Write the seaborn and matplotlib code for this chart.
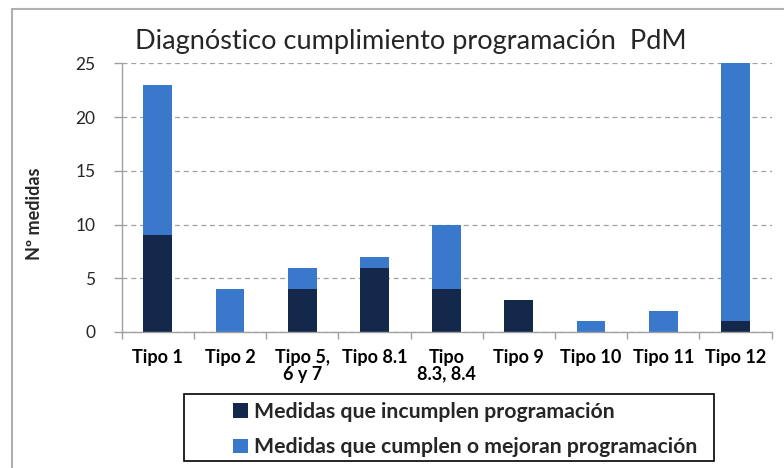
import matplotlib

matplotlib.use("Agg")
import matplotlib.pyplot as plt  # noqa: E402
import numpy as np  # noqa: E402
import pandas as pd  # noqa: E402
import seaborn as sns  # noqa: E402
from matplotlib.lines import Line2D  # noqa: E402
from matplotlib.patches import Patch, Rectangle  # noqa: E402

# data
categories = [
    "Tipo 1", "Tipo 2", "Tipo 5,\n6 y 7", "Tipo 8.1", "Tipo\n8.3, 8.4",
    "Tipo 9", "Tipo 10", "Tipo 11", "Tipo 12",
]
incumplen = [9, 0, 4, 6, 4, 3, 0, 0, 1]
cumplen = [14, 4, 2, 1, 6, 0, 1, 2, 24]
yticks = [0, 5, 10, 15, 20, 25]
series_labels = [
    "Medidas que incumplen programación",
    "Medidas que cumplen o mejoran programación",
]
title = "Diagnóstico cumplimiento programación  PdM"
ylabel = "Nº medidas"

DARK = "#13284a"
BLUE = "#3a78cb"
GRID = "#a0a0a0"

sns.set_theme(style="white")
plt.rcParams["font.family"] = ["Lato", "DejaVu Sans"]

df = pd.DataFrame({"tipo": categories, "incumplen": incumplen, "cumplen": cumplen})
df["total"] = df["incumplen"] + df["cumplen"]

W, H = 784, 468
fig = plt.figure(figsize=(W / 100, H / 100), dpi=100)
ax = fig.add_axes([121.7 / W, 1 - 332 / H, (771.5 - 121.7) / W, (332 - 63.3) / H])

# stacked: full height in blue, dark part drawn over the bottom
sns.barplot(data=df, x="tipo", y="total", color=BLUE, width=0.4,
            saturation=1, errorbar=None, linewidth=0, ax=ax)
sns.barplot(data=df, x="tipo", y="incumplen", color=DARK, width=0.4,
            saturation=1, errorbar=None, linewidth=0, ax=ax)

ax.set_xlim(-0.5, len(categories) - 0.5)
ax.set_ylim(0, max(yticks))
ax.set_yticks(yticks)
ax.set_xlabel("")
ax.set_ylabel("")
ax.set_axisbelow(True)
ax.yaxis.grid(True, linestyle=(0, (4, 3)), color=GRID, linewidth=0.9)

for side in ["top", "right"]:
    ax.spines[side].set_visible(False)
for side in ["left", "bottom"]:
    ax.spines[side].set_color(GRID)
    ax.spines[side].set_linewidth(1.0)

ax.set_xticks(np.arange(len(categories)))
ax.set_xticklabels(categories, fontweight="bold", fontsize=13, linespacing=1.0)
ax.set_xticks(np.arange(len(categories) + 1) - 0.5, minor=True)
ax.tick_params(axis="x", which="major", length=0, pad=12, colors="black")
ax.tick_params(axis="x", which="minor", length=5, width=1, color=GRID,
               direction="out", bottom=True)
ax.tick_params(axis="y", length=6, width=1, color=GRID, direction="out",
               pad=13, labelsize=12.5, left=True)
for lab in ax.get_xticklabels():
    lab.set_verticalalignment("top")

fig.text(411 / W, 1 - 41 / H, title, ha="center", va="center", fontsize=19.5)
fig.text(35 / W, 1 - 214 / H, ylabel, ha="center", va="center",
         rotation=90, fontsize=13, fontweight="bold")

# outer chart frame (light gray, left and top visible)
fig.add_artist(Line2D([12 / W, 12 / W], [0, 1 - 9 / H], transform=fig.transFigure,
                      color="#b0b0b0", linewidth=1.5))
fig.add_artist(Line2D([12 / W, 1], [1 - 9 / H, 1 - 9 / H], transform=fig.transFigure,
                      color="#b0b0b0", linewidth=1.5))

# legend box
fig.add_artist(Rectangle((184 / W, 1 - 461 / H), 530 / W, 67 / H,
                         transform=fig.transFigure, facecolor="white",
                         edgecolor="black", linewidth=1.2))
handles = [Patch(facecolor=DARK, edgecolor="none"),
           Patch(facecolor=BLUE, edgecolor="none")]
leg = fig.legend(handles, series_labels, loc="center left",
                 bbox_to_anchor=(233 / W, 1 - 429.5 / H), frameon=False,
                 fontsize=15.3, handlelength=0.7, handleheight=0.7,
                 handletextpad=0.3, labelspacing=0.75, borderpad=0,
                 borderaxespad=0)
for t in leg.get_texts():
    t.set_fontweight("bold")

fig.savefig("out.png", dpi=100)
plt.close(fig)
